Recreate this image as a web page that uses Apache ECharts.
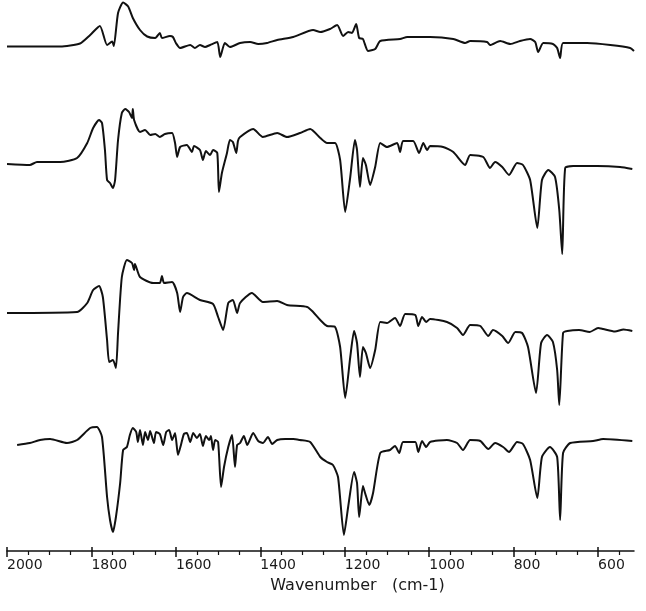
<!DOCTYPE html>
<html>
<head>
<meta charset="utf-8">
<title>IR spectra</title>
<script src="https://cdn.jsdelivr.net/npm/echarts@6.0.0/dist/echarts.min.js"></script>
<style>
  html, body { margin: 0; padding: 0; background: #fff; }
  #chart { width: 646px; height: 611px; }
</style>
</head>
<body>
<div id="chart"></div>
<script>
// wavenumber (cm-1) / transmittance as plotted, spectra stacked with offsets
const wn1 = [
  2000, 1874, 1827, 1803, 1780, 1763, 1751, 1747, 1737, 1725,
  1713, 1702, 1685, 1668, 1649, 1638, 1633, 1614, 1607, 1600,
  1590, 1566, 1555, 1543, 1531, 1519, 1502, 1495, 1484, 1472,
  1448, 1424, 1405, 1384, 1360, 1322, 1275, 1258, 1235, 1218,
  1204, 1192, 1183, 1173, 1166, 1157, 1145, 1128, 1116, 1069,
  1052, 998, 943, 915, 903, 863, 856, 832, 808, 785,
  761, 749, 742, 730, 707, 697, 690, 683, 626, 571,
  524, 515
]
const t1 = [
  100.9, 100.9, 101.5, 103.2, 105.0, 101.2, 101.9, 101.0, 107.6, 109.7,
  108.9, 106.6, 104.2, 102.9, 102.6, 103.6, 102.6, 103.0, 102.8, 101.6,
  100.6, 101.2, 100.6, 101.2, 100.8, 101.2, 101.8, 98.8, 101.6, 100.8,
  101.6, 101.8, 101.4, 101.6, 102.2, 102.8, 104.2, 103.8, 104.4, 105.2,
  103.0, 103.8, 103.6, 105.4, 102.6, 102.4, 100.0, 100.4, 102.0, 102.4,
  102.8, 102.8, 102.4, 101.6, 102.0, 101.8, 101.2, 102.0, 101.4, 102.0,
  102.4, 101.8, 99.8, 101.6, 101.4, 100.6, 98.6, 101.6, 101.6, 101.2,
  100.6, 100.0
]

const wn2 = [
  2000, 1946, 1929, 1874, 1834, 1810, 1796, 1782, 1775, 1768,
  1763, 1756, 1749, 1744, 1737, 1728, 1720, 1711, 1704, 1702,
  1699, 1685, 1673, 1661, 1649, 1638, 1626, 1609, 1602, 1597,
  1590, 1574, 1562, 1557, 1543, 1536, 1529, 1519, 1512, 1502,
  1498, 1491, 1479, 1472, 1465, 1457, 1453, 1448, 1417, 1394,
  1360, 1337, 1306, 1282, 1258, 1242, 1223, 1211, 1199, 1187,
  1176, 1171, 1164, 1157, 1150, 1140, 1128, 1116, 1100, 1076,
  1069, 1062, 1038, 1024, 1014, 1005, 998, 967, 943, 915,
  903, 872, 856, 844, 827, 811, 792, 778, 761, 744,
  733, 718, 702, 692, 685, 678, 659, 602, 548, 519
]
const t2 = [
  77.4, 77.2, 77.8, 77.8, 78.6, 81.6, 84.6, 86.2, 85.6, 80.2,
  74.2, 73.6, 72.6, 74.2, 82.2, 87.6, 88.4, 87.8, 86.6, 88.4,
  86.2, 83.8, 84.2, 83.2, 83.4, 82.8, 83.4, 83.6, 81.6, 78.8,
  80.8, 81.2, 79.8, 81.0, 80.2, 78.2, 80.0, 79.2, 80.2, 79.6,
  71.8, 75.6, 79.6, 82.2, 81.8, 79.6, 82.0, 82.8, 84.4, 82.8,
  83.6, 82.8, 83.6, 84.4, 82.6, 81.6, 81.6, 78.2, 67.8, 74.8,
  82.2, 80.2, 72.8, 78.6, 77.2, 73.2, 76.8, 81.6, 80.8, 81.6,
  79.8, 82.0, 82.0, 79.6, 81.6, 80.2, 81.0, 80.8, 79.8, 77.2,
  79.2, 78.8, 76.6, 77.8, 76.8, 75.2, 77.6, 77.2, 74.2, 64.6,
  74.2, 76.2, 74.8, 68.2, 59.4, 76.6, 77.0, 77.0, 76.8, 76.4
]

const wn3 = [
  2000, 1834, 1810, 1796, 1782, 1773, 1763, 1758, 1749, 1742,
  1737, 1728, 1716, 1704, 1699, 1697, 1685, 1654, 1638, 1633,
  1628, 1609, 1597, 1590, 1583, 1574, 1543, 1512, 1500, 1488,
  1476, 1465, 1455, 1448, 1420, 1394, 1360, 1337, 1289, 1275,
  1258, 1242, 1223, 1211, 1199, 1187, 1178, 1171, 1164, 1157,
  1150, 1140, 1128, 1116, 1100, 1081, 1069, 1057, 1033, 1026,
  1017, 1007, 998, 958, 934, 920, 903, 879, 860, 849,
  827, 813, 796, 780, 766, 747, 735, 721, 707, 697,
  692, 683, 673, 645, 620, 600, 588, 560, 540, 519
]
const t3 = [
  47.6, 47.8, 49.6, 52.2, 53.0, 50.8, 42.2, 37.8, 38.2, 36.6,
  43.6, 54.8, 58.2, 57.6, 56.2, 57.4, 54.8, 53.6, 53.6, 55.0,
  53.6, 53.8, 51.6, 47.8, 50.8, 51.6, 50.2, 49.4, 46.8, 44.2,
  49.6, 50.2, 47.6, 49.6, 51.6, 49.8, 50.0, 49.2, 48.8, 47.8,
  46.2, 45.0, 44.8, 40.8, 30.6, 38.8, 44.0, 41.6, 34.8, 40.8,
  39.6, 36.6, 40.2, 45.8, 45.6, 46.6, 45.0, 47.4, 47.2, 45.0,
  46.8, 45.8, 46.4, 45.8, 44.6, 43.2, 45.2, 45.0, 43.0, 44.2,
  43.0, 41.6, 43.8, 43.6, 40.8, 31.6, 41.6, 43.2, 41.8, 36.2,
  29.2, 43.6, 44.0, 44.2, 43.8, 44.6, 44.4, 43.9, 44.3, 44.0
]

const wn4 = [
  1976, 1946, 1922, 1898, 1858, 1834, 1803, 1787, 1775, 1763,
  1756, 1749, 1742, 1732, 1725, 1716, 1709, 1702, 1694, 1690,
  1685, 1678, 1673, 1666, 1661, 1652, 1647, 1638, 1630, 1623,
  1616, 1609, 1602, 1595, 1588, 1581, 1574, 1566, 1559, 1550,
  1543, 1536, 1529, 1521, 1517, 1512, 1507, 1500, 1493, 1486,
  1476, 1467, 1460, 1455, 1448, 1439, 1431, 1417, 1405, 1394,
  1382, 1372, 1360, 1341, 1322, 1306, 1282, 1258, 1242, 1228,
  1216, 1202, 1192, 1178, 1171, 1166, 1157, 1152, 1142, 1133,
  1116, 1093, 1081, 1071, 1062, 1033, 1026, 1017, 1007, 998,
  958, 934, 920, 903, 879, 860, 844, 825, 811, 792,
  778, 761, 744, 733, 714, 697, 690, 683, 666, 612,
  588, 519
]
const t4 = [
  21.2, 21.6, 22.2, 22.4, 21.6, 22.2, 24.6, 24.8, 22.8, 10.8,
  6.2, 3.8, 6.8, 13.6, 20.2, 20.8, 23.2, 24.6, 23.8, 21.8,
  24.2, 21.2, 23.8, 22.2, 24.0, 21.6, 23.8, 23.4, 21.2, 23.8,
  24.2, 22.2, 23.6, 19.2, 21.2, 23.4, 23.6, 21.8, 23.6, 22.6,
  23.4, 21.0, 23.0, 22.2, 23.0, 20.2, 22.2, 21.8, 12.8, 16.8,
  20.8, 23.2, 16.8, 21.2, 21.6, 23.0, 21.2, 23.6, 22.0, 21.6,
  22.8, 21.4, 22.2, 22.4, 22.4, 22.2, 21.8, 18.8, 17.8, 17.2,
  14.8, 3.2, 8.8, 15.8, 13.6, 6.8, 13.0, 11.6, 9.2, 11.6,
  19.6, 20.2, 21.0, 19.6, 21.8, 21.8, 19.8, 22.0, 20.8, 21.8,
  22.2, 21.6, 20.2, 22.2, 22.0, 20.4, 21.6, 20.8, 19.8, 21.8,
  21.4, 18.2, 10.6, 18.8, 20.8, 18.8, 6.2, 19.6, 21.6, 22.0,
  22.4, 22.0
]

const majorTicks = [2000, 1800, 1600, 1400, 1200, 1000, 800, 600]
const minorTicks = [1950, 1900, 1850, 1750, 1700, 1650, 1550, 1500, 1450, 1350, 1300, 1250,
  1150, 1100, 1050, 950, 900, 850, 750, 700, 650, 550]

const pairs = (w, t) => w.map((v, i) => [v, t[i]])

const chart = echarts.init(document.getElementById('chart'))

const ink = '#111'
const axisBase = {
  type: 'value',
  min: 515,
  max: 2000,
  inverse: true,
  position: 'bottom',
  splitLine: { show: false }
}

const spectrum = (data) => ({
  type: 'line',
  data: data,
  showSymbol: false,
  smooth: 0.2,
  lineStyle: { color: ink, width: 2 },
  animation: false
})

chart.setOption({
  animation: false,
  grid: { left: 7, right: 12, top: 0, bottom: 60 },
  xAxis: [
    {
      ...axisBase,
      axisLine: { onZero: false, lineStyle: { color: ink, width: 1.5 } },
      axisTick: { customValues: majorTicks, length: 6, lineStyle: { color: ink, width: 1.5 } },
      axisLabel: {
        customValues: majorTicks,
        formatter: (v) => String(v),
        align: 'left',
        margin: 7,
        color: '#1a1a1a',
        fontFamily: 'DejaVu Sans',
        fontSize: 14
      },
      name: 'Wavenumber   (cm-1)',
      nameLocation: 'middle',
      nameGap: 27,
      nameTextStyle: {
        color: '#1a1a1a',
        fontFamily: 'DejaVu Sans',
        fontSize: 16,
        padding: [0, 0, 0, 74]
      }
    },
    {
      // short ticks above the line at the major marks
      ...axisBase,
      axisLine: { show: false, onZero: false },
      axisLabel: { show: false },
      axisTick: { customValues: majorTicks, inside: true, length: 4, lineStyle: { color: ink, width: 1.5 } }
    },
    {
      // minor ticks every 50 cm-1
      ...axisBase,
      axisLine: { show: false, onZero: false },
      axisLabel: { show: false },
      axisTick: { customValues: minorTicks, length: 4, lineStyle: { color: ink, width: 1.2 } }
    }
  ],
  yAxis: { type: 'value', min: 0, max: 110.2, show: false },
  series: [
    spectrum(pairs(wn1, t1)),
    spectrum(pairs(wn2, t2)),
    spectrum(pairs(wn3, t3)),
    spectrum(pairs(wn4, t4))
  ]
})
</script>
</body>
</html>
